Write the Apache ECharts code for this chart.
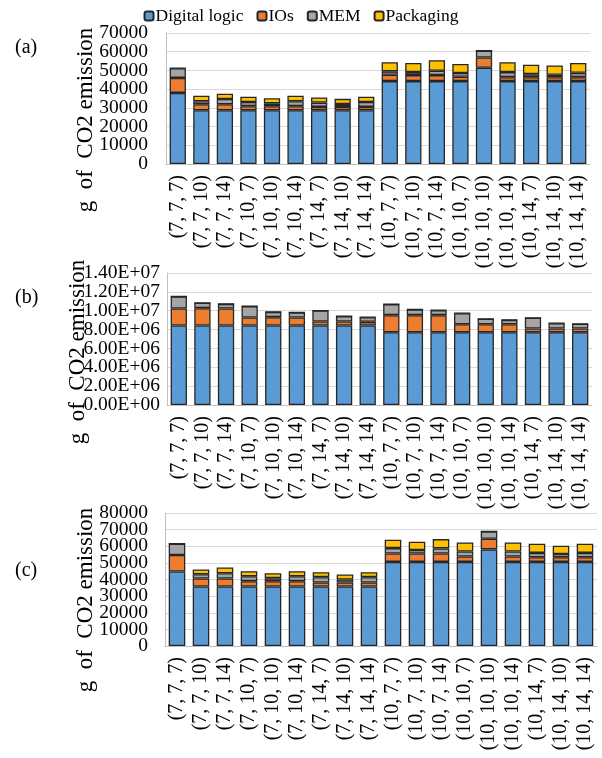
<!DOCTYPE html>
<html>
<head>
<meta charset="utf-8">
<script src="https://cdn.jsdelivr.net/npm/echarts@6/dist/echarts.min.js"></script>
<style>
  html, body { margin: 0; padding: 0; background: #fff; }
  #chart { width: 602px; height: 758px; }
</style>
</head>
<body>
<div id="chart"></div>
<script>
// categories (S, M, N) configurations
const categories = ['(7, 7, 7)', '(7, 7, 10)', '(7, 7, 14)', '(7, 10, 7)', '(7, 10, 10)', '(7, 10, 14)',
  '(7, 14, 7)', '(7, 14, 10)', '(7, 14, 14)', '(10, 7, 7)', '(10, 7, 10)', '(10, 7, 14)',
  '(10, 10, 7)', '(10, 10, 10)', '(10, 10, 14)', '(10, 14, 7)', '(10, 14, 10)', '(10, 14, 14)'];
const seriesNames = ['Digital logic', 'IOs', 'MEM', 'Packaging'];

// panel (a)
const aLogic = [38000, 28700, 28700, 28700, 28700, 28700, 28700, 28700, 28700, 44300, 44300, 44300, 44300, 51400, 44300, 44300, 44300, 44300];
const aIOs   = [8000, 3200, 3200, 2200, 2200, 2200, 1800, 1800, 1800, 3400, 3200, 3200, 2300, 5500, 2100, 2100, 2100, 2100];
const aMEM   = [5200, 1600, 2800, 2200, 1500, 2600, 2300, 1500, 2600, 1800, 1600, 2300, 2000, 3700, 2700, 1600, 1300, 2300];
const aPack  = [0, 3000, 2900, 2900, 2700, 3000, 2800, 2800, 2900, 4900, 4900, 5700, 4800, 0, 5300, 5000, 5000, 5300];

// panel (b)
const bLogic = [8.43e6, 8.43e6, 8.43e6, 8.43e6, 8.43e6, 8.43e6, 8.43e6, 8.43e6, 8.43e6, 7.72e6, 7.72e6, 7.72e6, 7.72e6, 7.72e6, 7.72e6, 7.72e6, 7.72e6, 7.72e6];
const bIOs   = [1.80e6, 1.84e6, 1.80e6, 0.85e6, 0.89e6, 0.85e6, 0.42e6, 0.42e6, 0.39e6, 1.81e6, 1.81e6, 1.81e6, 0.85e6, 0.85e6, 0.85e6, 0.39e6, 0.39e6, 0.39e6];
const bMEM   = [1.28e6, 0.57e6, 0.50e6, 1.21e6, 0.56e6, 0.53e6, 1.17e6, 0.58e6, 0.50e6, 1.17e6, 0.60e6, 0.53e6, 1.17e6, 0.57e6, 0.46e6, 1.14e6, 0.57e6, 0.50e6];
const bPack  = [0, 0, 0, 0, 0, 0, 0, 0, 0, 0, 0, 0, 0, 0, 0, 0, 0, 0];

// panel (c)
const cLogic = [44800, 35800, 35800, 35800, 35800, 35800, 35800, 35800, 35800, 50600, 50600, 50600, 50600, 58100, 50600, 50600, 50600, 50600];
const cIOs   = [9900, 4800, 4800, 3200, 3200, 3200, 2400, 2400, 2400, 5000, 5000, 5000, 3200, 6400, 3200, 2800, 2800, 2800];
const cMEM   = [6800, 2600, 3200, 3000, 1800, 3000, 3200, 1800, 3200, 3300, 2100, 3100, 3000, 4400, 3000, 2600, 1900, 2600];
const cPack  = [0, 2800, 3400, 3000, 3000, 3000, 3000, 3000, 3000, 5000, 5000, 5600, 5500, 0, 5500, 5500, 5000, 5500];

// y axis ranges [max, interval]
const yRanges = [[70000, 10000], [1.4e7, 2e6], [80000, 10000]];

const colors = ['#5B9BD5', '#ED7D31', '#A5A5A5', '#FFC000'];
const font = 'Liberation Serif';

function sciLabel(v) {
  if (v === 0) return '0.00E+00';
  let e = Math.floor(Math.log10(v));
  let m = v / Math.pow(10, e);
  return m.toFixed(2) + 'E+' + (e < 10 ? '0' + e : e);
}
function plainLabel(v) {
  return String(v);
}

function xAxisOf(idx) {
  return {
    type: 'category', gridIndex: idx, data: categories,
    axisLine: { lineStyle: { color: '#BFBFBF', width: 1 } },
    axisTick: { show: false },
    axisLabel: { rotate: 90, interval: 0, margin: 11, color: '#000', fontFamily: font, fontSize: 20 }
  };
}
// main axis: inner tick labels; the min/max labels come from a twin axis,
// so the overlap check does not drop the neighbours
function yAxisOf(idx, margin, fmt) {
  return {
    type: 'value', gridIndex: idx, min: 0, max: yRanges[idx][0], interval: yRanges[idx][1],
    position: 'left',
    axisLine: { show: true, lineStyle: { color: '#BFBFBF', width: 1 } },
    axisTick: { show: false },
    splitLine: { lineStyle: { color: '#D9D9D9', width: 1 } },
    axisLabel: {
      margin: margin, color: '#000', fontFamily: font, fontSize: 19.5,
      formatter: fmt, showMinLabel: false, showMaxLabel: false
    }
  };
}
function yTwinOf(idx, margin, fmt) {
  const max = yRanges[idx][0];
  return {
    type: 'value', gridIndex: idx, min: 0, max: max, interval: yRanges[idx][1],
    position: 'left', offset: 0,
    axisLine: { show: false }, axisTick: { show: false }, splitLine: { show: false },
    axisLabel: {
      margin: margin, color: '#000', fontFamily: font, fontSize: 19.5,
      showMinLabel: true, showMaxLabel: true,
      formatter: v => (v === 0 || v === max) ? fmt(v) : ''
    }
  };
}

const panels = [[aLogic, aIOs, aMEM, aPack], [bLogic, bIOs, bMEM, bPack], [cLogic, cIOs, cMEM, cPack]];
let series = [];
panels.forEach((p, gi) => {
  p.forEach((vals, si) => {
    series.push({
      name: seriesNames[si], type: 'bar', stack: 'panel' + gi,
      xAxisIndex: gi, yAxisIndex: gi * 2,
      barCategoryGap: '31%',
      data: vals,
      itemStyle: { color: colors[si], borderColor: '#262626', borderWidth: 1.3 }
    });
  });
});

function yTitle(x, y) {
  return {
    type: 'text', x: x, y: y, rotation: Math.PI / 2,
    style: { text: 'g  of  CO2 emission', fill: '#000', font: '23px "Liberation Serif"', align: 'center', verticalAlign: 'middle' }
  };
}
function panelTag(t, top) {
  return { type: 'text', left: 15, top: top, style: { text: t, fill: '#000', font: '20px "Liberation Serif"' } };
}

var myChart = echarts.init(document.getElementById('chart'));
let option = {
  animation: false,
  color: colors,
  legend: {
    data: seriesNames, top: 2, left: 'center',
    itemWidth: 9, itemHeight: 9, itemGap: 13,
    textStyle: { color: '#000', fontFamily: font, fontSize: 17.5, padding: [0, 0, 0, -3] }
  },
  grid: [
    { left: 166, top: 33, width: 424, height: 131 },
    { left: 167, top: 273, width: 425, height: 132 },
    { left: 165, top: 513, width: 432, height: 133 }
  ],
  xAxis: [xAxisOf(0), xAxisOf(1), xAxisOf(2)],
  yAxis: [
    yAxisOf(0, 18, plainLabel), yTwinOf(0, 18, plainLabel),
    yAxisOf(1, 7, sciLabel), yTwinOf(1, 7, sciLabel),
    yAxisOf(2, 17, plainLabel), yTwinOf(2, 17, plainLabel)
  ],
  graphic: [
    panelTag('(a)', 38), panelTag('(b)', 288), panelTag('(c)', 561),
    yTitle(86, 120), yTitle(78, 352), yTitle(86, 600)
  ],
  series: series
};
myChart.setOption(option);
</script>
</body>
</html>
